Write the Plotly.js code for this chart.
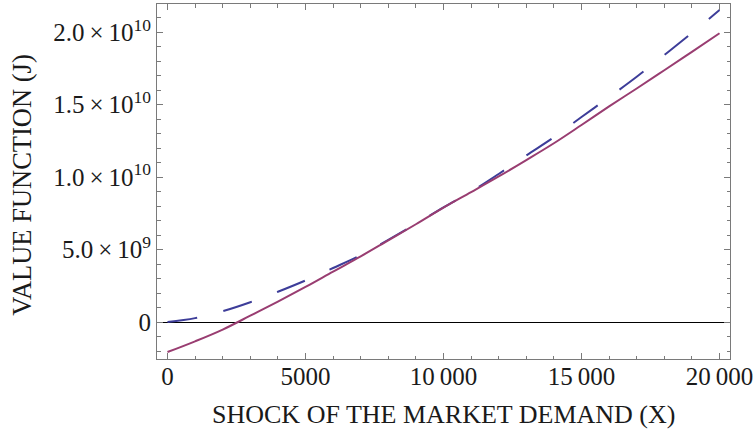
<!DOCTYPE html>
<html>
<head>
<meta charset="utf-8">
<script src="https://cdn.plot.ly/plotly-3.0.1.min.js"></script>
<style>
  html, body { margin: 0; padding: 0; background: #ffffff; }
  #chart { width: 754px; height: 431px; }
</style>
</head>
<body>
<div id="chart"></div>
<script>
// Shock of the market demand (X)
const shockX = [0, 1000, 2000, 3000, 4000, 5000, 6000, 7000, 8000, 9000, 10000,
                11000, 12000, 13000, 14000, 15000, 16000, 17000, 18000, 19000, 20000];

// Value function, dashed (blue) curve
const valueDashed = [0, 0.27e9, 0.75e9, 1.37e9, 2.09e9, 2.87e9, 3.73e9, 4.62e9, 5.68e9, 6.78e9, 7.92e9,
                     9.0e9, 10.22e9, 11.5e9, 12.75e9, 14.15e9, 15.52e9, 16.93e9, 18.43e9, 19.95e9, 21.53e9];

// Value function, solid (purple) curve
const valueSolid = [-2.07e9, -1.33e9, -0.52e9, 0.44e9, 1.41e9, 2.42e9, 3.48e9, 4.53e9, 5.64e9, 6.75e9, 7.9e9,
                    8.97e9, 10.05e9, 11.18e9, 12.34e9, 13.6e9, 14.88e9, 16.12e9, 17.38e9, 18.65e9, 19.93e9];

// Tick labels
const xTickVals = [0, 5000, 10000, 15000, 20000];
const xTickText = ["0", "5000", "10\u2009000", "15\u2009000", "20\u2009000"];
const yTickVals = [0, 5e9, 1e10, 1.5e10, 2e10];
const yTickText = ["0", "5.0\u2009×\u200910<sup>9</sup>", "1.0\u2009×\u200910<sup>10</sup>",
                   "1.5\u2009×\u200910<sup>10</sup>", "2.0\u2009×\u200910<sup>10</sup>"];

const serif = "'Liberation Serif', 'Times New Roman', serif";
const frameColor = "#7a7a7a";

const traces = [
  {
    x: shockX, y: valueDashed, type: "scatter", mode: "lines",
    line: { color: "rgb(61,61,153)", width: 2, dash: "30px,27px", shape: "spline" },
    hoverinfo: "skip", showlegend: false
  },
  {
    x: shockX, y: valueSolid, type: "scatter", mode: "lines",
    line: { color: "rgb(153,61,113)", width: 2, shape: "spline" },
    hoverinfo: "skip", showlegend: false
  }
];

const layout = {
  width: 754, height: 431,
  margin: { l: 157, r: 24, t: 4, b: 72, pad: 0 },
  paper_bgcolor: "#ffffff", plot_bgcolor: "#ffffff",
  showlegend: false,
  font: { family: serif, color: "#1a1a1a", size: 25 },
  xaxis: {
    range: [-380, 20380],
    tickmode: "array", tickvals: xTickVals, ticktext: xTickText,
    ticks: "inside", ticklen: 6, tickwidth: 1, tickcolor: frameColor,
    minor: { dtick: 1000, tick0: 0, ticks: "inside", ticklen: 3.5, tickwidth: 1, tickcolor: frameColor, showgrid: false },
    showline: true, linecolor: frameColor, linewidth: 1, mirror: "ticks",
    showgrid: false, zeroline: false,
    tickfont: { family: serif, size: 25, color: "#1a1a1a" },
    ticklabelstandoff: -5
  },
  yaxis: {
    range: [-2.55e9, 21.95e9],
    tickmode: "array", tickvals: yTickVals, ticktext: yTickText,
    ticks: "inside", ticklen: 6, tickwidth: 1, tickcolor: frameColor,
    minor: { dtick: 1e9, tick0: 0, ticks: "inside", ticklen: 3.5, tickwidth: 1, tickcolor: frameColor, showgrid: false },
    showline: true, linecolor: frameColor, linewidth: 1, mirror: "ticks",
    showgrid: false,
    zeroline: true, zerolinecolor: "#000000", zerolinewidth: 1,
    tickfont: { family: serif, size: 25, color: "#1a1a1a" },
    ticklabelstandoff: 0
  },
  annotations: [
    {
      text: "SHOCK OF THE MARKET DEMAND (X)",
      xref: "paper", yref: "paper", x: 0.5, y: -0.155,
      xanchor: "center", yanchor: "middle", showarrow: false,
      font: { family: serif, size: 26, color: "#1a1a1a" }
    },
    {
      text: "VALUE FUNCTION (J)",
      xref: "paper", yref: "paper", x: -0.236, y: 0.49,
      xanchor: "center", yanchor: "middle", showarrow: false, textangle: -90,
      font: { family: serif, size: 26.5, color: "#1a1a1a" }
    }
  ]
};

Plotly.newPlot("chart", traces, layout, { staticPlot: true, displayModeBar: false });
</script>
</body>
</html>
